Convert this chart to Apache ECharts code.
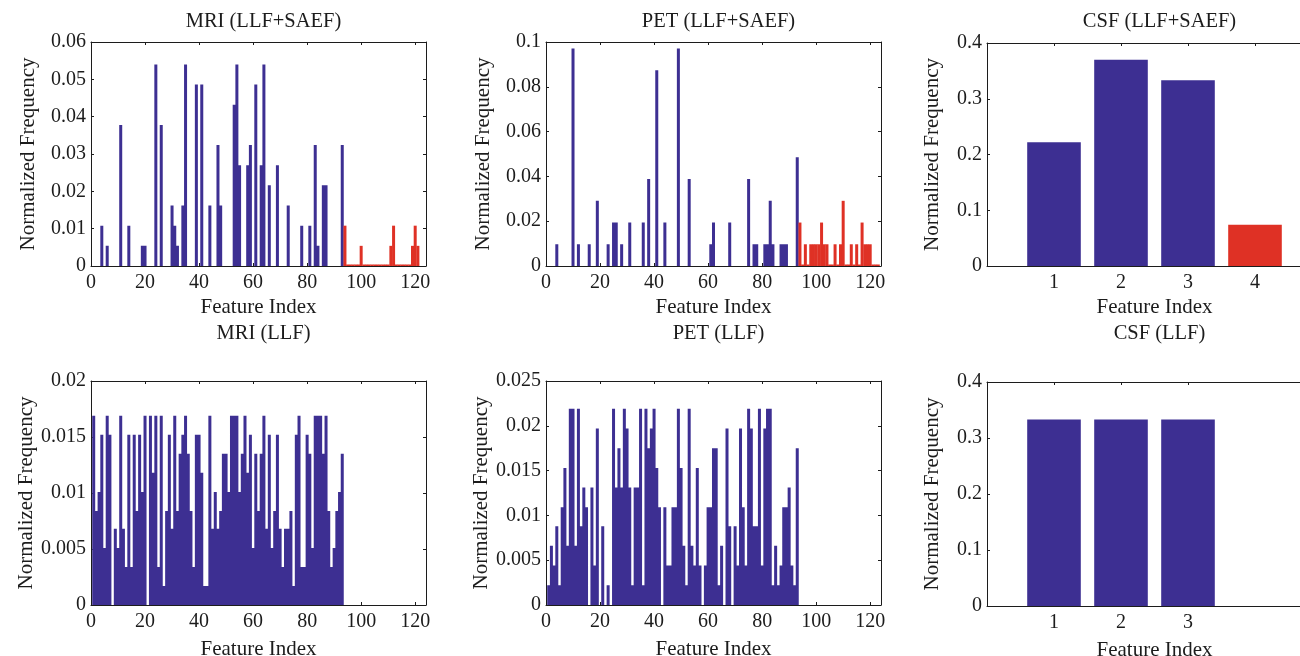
<!DOCTYPE html>
<html>
<head>
<meta charset="utf-8">
<script src="https://cdn.jsdelivr.net/npm/echarts@6/dist/echarts.min.js"></script>
<style>
html,body{margin:0;padding:0;background:#ffffff;}
#chart{width:1300px;height:656px;}
</style>
</head>
<body>
<div id="chart"></div>
<script>
// ---------------- DATA ----------------
const xTicks = [0, 20, 40, 60, 80, 100, 120];
const csfTicksTop = [1, 2, 3, 4];
const csfTicksBottom = [1, 2, 3];
const saefStart = 94;          // first SAEF feature index (red bars)

// MRI (LLF+SAEF): LLF features (blue), sparse index/value lists
const mriTopIdx = [4,6,11,14,19,20,24,26,30,31,32,34,35,39,41,44,47,48,53,54,55,58,59,61,63,64,66,69,73,78,81,83,84,86,87,93];
const mriTopVal = [0.0108,0.0054,0.0378,0.0108,0.0054,0.0054,0.054,0.0378,0.0162,0.0108,0.0054,0.0162,0.054,0.0486,0.0486,0.0162,0.0324,0.0162,0.0432,0.054,0.027,0.027,0.0324,0.0486,0.027,0.054,0.0216,0.027,0.0162,0.0108,0.0108,0.0324,0.0054,0.0216,0.0216,0.0324];
// MRI (LLF+SAEF): SAEF features 94..121 (red)
const mriTopRed = [0.0108,0,0,0,0,0,0.0054,0,0,0,0,0,0,0,0,0,0,0.0054,0.0108,0,0,0,0,0,0,0.0054,0.0108,0.0054];

// PET (LLF+SAEF): LLF features (blue)
const petTopIdx = [4,10,12,16,19,23,25,26,28,31,36,38,41,44,49,53,61,62,68,75,77,78,81,82,83,84,87,88,89,93];
const petTopVal = [0.0097,0.0971,0.0097,0.0097,0.0291,0.0097,0.0194,0.0194,0.0097,0.0194,0.0194,0.0388,0.0874,0.0194,0.0971,0.0388,0.0097,0.0194,0.0194,0.0388,0.0097,0.0097,0.0097,0.0097,0.0291,0.0097,0.0097,0.0097,0.0097,0.0485];
// PET (LLF+SAEF): SAEF features 94..123 (red)
const petTopRed = [0.0194,0,0.0097,0,0.0097,0.0097,0.0097,0.0097,0.0194,0.0097,0.0097,0,0,0.0097,0,0.0097,0.0291,0,0,0.0097,0,0.0097,0,0.0194,0.0097,0.0097,0.0097,0,0,0];

// MRI (LLF): features 1..93
const mriLlf = [
0.0169,0.0084,0.0101,0.0152,0.0051,0.0169,0.0152,0,0.0068,0.0051,
0.0169,0.0068,0.0034,0.0152,0.0034,0.0152,0.0084,0.0152,0.0101,0.0169,
0,0.0169,0.0118,0.0169,0.0034,0.0169,0.0017,0.0084,0.0152,0.0068,
0.0169,0.0084,0.0135,0.0152,0.0169,0.0135,0.0084,0.0034,0.0152,0.0152,
0.0118,0.0017,0.0017,0.0169,0.0068,0.0101,0.0068,0.0084,0.0135,0.0135,
0.0101,0.0169,0.0169,0.0169,0.0101,0.0135,0.0169,0.0118,0.0152,0.0051,
0.0135,0.0084,0.0135,0.0169,0.0068,0.0152,0.0051,0.0084,0.0152,0.0068,
0.0034,0.0068,0.0068,0.0084,0.0017,0.0152,0.0169,0.0034,0.0034,0.0152,
0.0135,0.0051,0.0169,0.0169,0.0169,0.0135,0.0169,0.0084,0.0034,0.0051,
0.0084,0.0101,0.0135];

// PET (LLF): features 1..93
const petLlf = [
0.0022,0.0066,0.0044,0.0088,0.0022,0.0109,0.0153,0.0066,0.0219,0.0219,
0.0066,0.0219,0.0088,0.0131,0.0109,0,0.0131,0.0044,0.0197,0,
0.0088,0,0.0022,0,0.0219,0.0131,0.0175,0.0131,0.0219,0.0197,
0.0131,0.0022,0.0131,0.0131,0.0219,0.0022,0.0219,0.0175,0.0197,0.0219,
0.0153,0.0109,0,0.0109,0.0044,0.0044,0.0109,0.0109,0.0219,0.0153,
0.0066,0.0022,0.0219,0.0066,0.0044,0.0153,0.0044,0,0.0044,0.0109,
0.0109,0.0175,0.0175,0.0022,0.0066,0,0.0197,0.0088,0,0.0088,
0.0044,0.0197,0.0109,0.0044,0.0219,0.0197,0.0088,0.0088,0.0219,0.0044,
0.0197,0.0219,0.0219,0.0022,0.0066,0.0022,0.0044,0.0109,0.0109,0.0131,
0.0044,0.0022,0.0175];

// CSF
const csfTopBlue = [0.222, 0.370, 0.333];     // features 1..3
const csfTopRed = [0.074];                    // feature 4
const csfLlf = [0.333, 0.333, 0.333];         // features 1..3

// ---------------- BUILD ----------------
const BLUE = '#3d2f92', RED = '#df3125', INK = '#1c1c1c';
const FONT = '"Liberation Serif", "Times New Roman", serif';

function pairs(idx, vals) { return idx.map((x, i) => [x, vals[i]]); }
function seq(start, vals) { return vals.map((v, i) => [start + i, v]); }

const PW = 335;
const panels = [
  {title:'MRI (LLF+SAEF)', left:91, top:42, h:224, xMax:124, ticks:xTicks, yMax:0.06, yInt:0.01, yGap:52,
   blue:pairs(mriTopIdx, mriTopVal), red:seq(saefStart, mriTopRed), frac:1, titleTop:6, nGap:31},
  {title:'PET (LLF+SAEF)', left:546, top:42, h:224, xMax:124, ticks:xTicks, yMax:0.1, yInt:0.02, yGap:52,
   blue:pairs(petTopIdx, petTopVal), red:seq(saefStart, petTopRed), frac:1, titleTop:6, nGap:31},
  {title:'CSF (LLF+SAEF)', left:987, top:43, h:223, xMax:5, ticks:csfTicksTop, yMax:0.4, yInt:0.1, yGap:44,
   blue:seq(1, csfTopBlue), red:seq(4, csfTopRed), frac:0.8, titleTop:6, nGap:31},
  {title:'MRI (LLF)', left:91, top:381, h:224, xMax:124, ticks:xTicks, yMax:0.02, yInt:0.005, yGap:52,
   blue:seq(1, mriLlf), red:[], frac:1, titleTop:318, nGap:34},
  {title:'PET (LLF)', left:546, top:381, h:224, xMax:124, ticks:xTicks, yMax:0.025, yInt:0.005, yGap:52,
   blue:seq(1, petLlf), red:[], frac:1, titleTop:318, nGap:34},
  {title:'CSF (LLF)', left:987, top:382, h:224, xMax:5, ticks:csfTicksBottom, yMax:0.4, yInt:0.1, yGap:44,
   blue:seq(1, csfLlf), red:[], frac:0.8, titleTop:318, nGap:34}
];

const grid = [], xAxis = [], yAxis = [], series = [], title = [];
const lineStyle = {color: INK, width: 1};
const tick = {inside: true, length: 3, lineStyle: {color: INK, width: 1}};
const labelStyle = {fontFamily: FONT, fontSize: 20, color: INK};
const nameStyle = {fontFamily: FONT, fontSize: 21, color: INK};

panels.forEach((p, i) => {
  grid.push({left: p.left, top: p.top, width: PW, height: p.h, outerBoundsMode: 'none', containLabel: false});
  title.push({text: p.title, left: p.left + PW / 2, top: p.titleTop, textAlign: 'center',
    textStyle: {fontFamily: FONT, fontSize: 20.5, fontWeight: 'normal', color: INK}});
  xAxis.push({gridIndex: i, type: 'value', min: 0, max: p.xMax, position: 'bottom',
    axisLine: {show: true, onZero: false, lineStyle},
    axisTick: Object.assign({customValues: p.ticks}, tick),
    axisLabel: Object.assign({customValues: p.ticks, margin: 7}, labelStyle),
    splitLine: {show: false},
    name: 'Feature Index', nameLocation: 'middle', nameGap: p.nGap, nameTextStyle: nameStyle});
  xAxis.push({gridIndex: i, type: 'value', min: 0, max: p.xMax, position: 'top',
    axisLine: {show: true, onZero: false, lineStyle},
    axisTick: Object.assign({customValues: p.ticks}, tick),
    axisLabel: {show: false}, splitLine: {show: false}});
  yAxis.push({gridIndex: i, type: 'value', min: 0, max: p.yMax, interval: p.yInt, position: 'left',
    axisLine: {show: true, onZero: false, lineStyle}, axisTick: tick,
    axisLabel: Object.assign({margin: 5}, labelStyle), splitLine: {show: false},
    name: 'Normalized Frequency', nameLocation: 'middle', nameGap: p.yGap, nameRotate: 90,
    nameTextStyle: nameStyle});
  yAxis.push({gridIndex: i, type: 'value', min: 0, max: p.yMax, interval: p.yInt, position: 'right',
    axisLine: {show: true, onZero: false, lineStyle}, axisTick: tick,
    axisLabel: {show: false}, splitLine: {show: false}});
  const thin = p.frac === 1;
  const unit = PW / p.xMax;                      // one feature unit in pixels
  const bw = thin ? unit + 0.3 : p.frac * unit;
  // large mode fills all bars of a series in one path -> adjacent bars merge without seams
  series.push({type: 'bar', xAxisIndex: 2 * i, yAxisIndex: 2 * i, data: p.blue,
    barWidth: bw, barGap: '-100%', silent: true, large: thin, largeThreshold: 1,
    itemStyle: {color: BLUE}});
  if (p.red.length) {
    series.push({type: 'bar', xAxisIndex: 2 * i, yAxisIndex: 2 * i, data: p.red,
      barWidth: bw, barGap: '-100%', barMinHeight: thin ? 1.5 : 0, silent: true,
      itemStyle: {color: RED}});
  }
});

const chart = echarts.init(document.getElementById('chart'), null, {renderer: 'canvas'});
chart.setOption({
  backgroundColor: '#ffffff',
  animation: false,
  title, grid, xAxis, yAxis, series
});
</script>
</body>
</html>
